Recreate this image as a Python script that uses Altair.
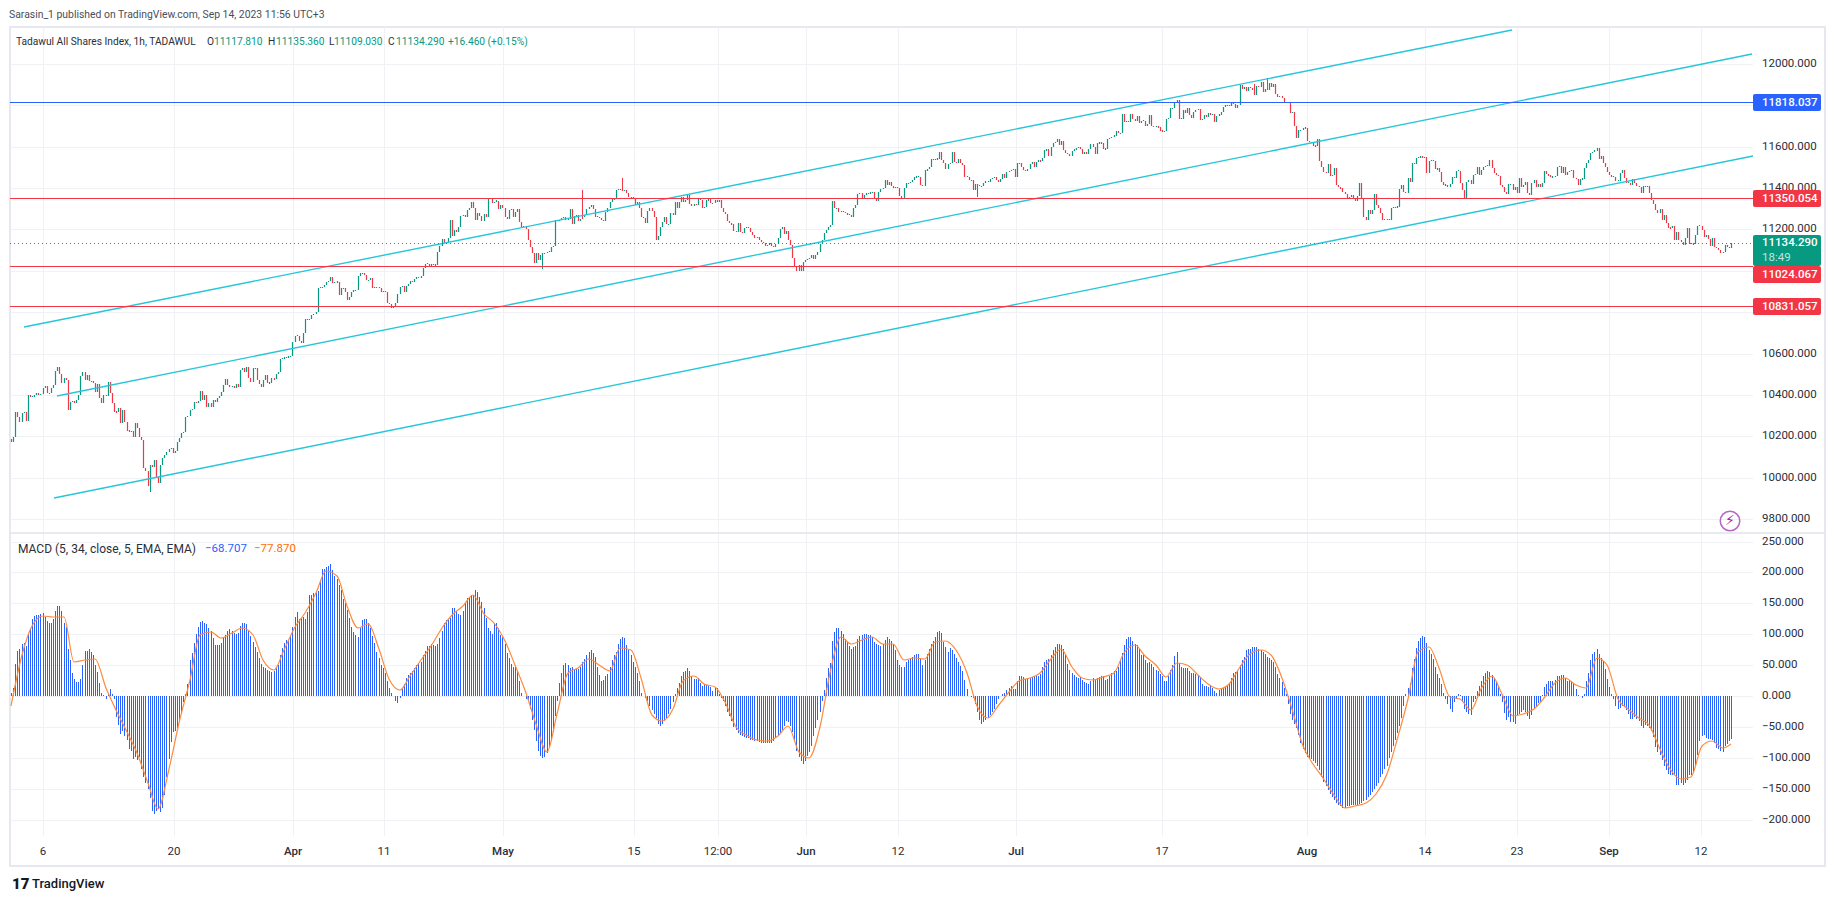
import altair as alt
import pandas as pd

closes = [
10170,10195,10319,10295,10270,10311,10316,10275,10399,10391,
10391,10399,10407,10404,10404,10432,10443,10407,10407,10432,
10448,10517,10535,10499,10456,10480,10472,10327,10365,10372,
10360,10375,10398,10491,10512,10472,10496,10467,10467,10460,
10416,10452,10383,10359,10399,10395,10461,10407,10359,10319,
10317,10335,10266,10327,10270,10227,10225,10225,10198,10265,
10238,10198,10182,10046,10030,9961,10061,10052,10085,10004,
9975,10061,10093,10109,10125,10140,10145,10120,10130,10170,
10190,10215,10222,10294,10300,10327,10332,10367,10359,10370,
10420,10375,10399,10343,10359,10343,10375,10367,10386,10394,
10415,10448,10475,10450,10440,10445,10435,10452,10436,10520,
10528,10513,10537,10480,10464,10528,10530,10472,10455,10440,
10470,10498,10456,10460,10480,10477,10499,10510,10572,10577,
10581,10581,10585,10588,10657,10685,10685,10660,10653,10700,
10765,10765,10765,10786,10791,10802,10918,10920,10920,10931,
10947,10950,10968,10940,10946,10947,10883,10915,10915,10899,
10859,10875,10899,10907,10907,10975,10988,10988,10980,10955,
10955,10965,10918,10924,10918,10918,10899,10899,10899,10843,
10838,10819,10830,10843,10890,10920,10925,10900,10925,10935,
10950,10945,10960,10970,10965,10975,11015,11035,11035,11020,
11035,11030,11027,11092,11119,11153,11135,11140,11161,11245,
11170,11197,11190,11210,11263,11270,11258,11293,11302,11334,
11305,11245,11280,11263,11242,11275,11258,11350,11345,11330,
11335,11338,11300,11317,11302,11262,11250,11295,11300,11258,
11282,11300,11237,11213,11215,11200,11150,11116,11087,11039,
11084,11050,11075,11084,11084,11092,11092,11113,11119,11245,
11240,11245,11253,11258,11245,11250,11297,11225,11264,11269,
11240,11250,11261,11270,11297,11310,11320,11298,11262,11262,
11257,11245,11240,11285,11302,11334,11345,11345,11393,11393,
11393,11390,11390,11375,11355,11355,11345,11320,11332,11305,
11262,11254,11230,11290,11305,11290,11262,11150,11170,11210,
11238,11262,11226,11226,11278,11270,11334,11302,11334,11355,
11334,11342,11367,11323,11313,11323,11318,11347,11342,11302,
11310,11342,11346,11326,11326,11342,11335,11342,11302,11286,
11275,11242,11230,11226,11194,11189,11233,11189,11181,11205,
11213,11205,11190,11173,11157,11162,11150,11141,11135,11120,
11125,11135,11120,11115,11130,11160,11200,11210,11176,11194,
11149,11125,11060,11020,11000,11030,11000,11045,11050,11055,
11060,11075,11055,11075,11090,11130,11150,11181,11197,11213,
11221,11339,11302,11302,11286,11286,11286,11278,11270,11270,
11262,11302,11318,11370,11375,11350,11367,11375,11375,11378,
11383,11350,11338,11383,11394,11400,11439,11415,11431,11410,
11402,11402,11402,11362,11350,11399,11423,11423,11431,11439,
11452,11455,11456,11415,11410,11487,11491,11503,11539,11540,
11540,11541,11576,11536,11520,11492,11517,11520,11576,11528,
11520,11539,11520,11512,11455,11455,11439,11439,11391,11420,
11415,11410,11410,11426,11430,11431,11442,11447,11452,11439,
11431,11445,11468,11447,11480,11482,11487,11492,11455,11520,
11520,11504,11488,11483,11491,11515,11528,11500,11528,11531,
11530,11547,11584,11588,11555,11597,11617,11625,11638,11609,
11628,11584,11568,11565,11557,11580,11589,11592,11600,11590,
11566,11575,11565,11588,11615,11600,11565,11617,11620,11618,
11590,11588,11636,11641,11649,11652,11678,11665,11665,11758,
11720,11720,11720,11758,11734,11722,11750,11713,11726,11726,
11700,11710,11752,11700,11698,11698,11694,11676,11673,11678,
11733,11738,11786,11786,11815,11824,11735,11735,11778,11762,
11786,11754,11740,11770,11778,11781,11730,11733,11754,11746,
11765,11755,11760,11718,11750,11754,11770,11794,11797,11802,
11797,11818,11805,11785,11800,11899,11878,11889,11871,11888,
11882,11873,11850,11893,11891,11915,11866,11878,11875,11906,
11890,11905,11855,11840,11845,11835,11815,11815,11816,11765,
11770,11700,11640,11680,11680,11690,11692,11630,11625,11620,
11605,11602,11635,11533,11500,11480,11473,11516,11460,11465,
11496,11415,11404,11400,11383,11372,11350,11355,11367,11345,
11340,11360,11423,11351,11262,11246,11294,11275,11295,11370,
11318,11306,11278,11246,11250,11246,11246,11302,11307,11307,
11310,11394,11415,11383,11378,11447,11431,11520,11518,11544,
11549,11552,11548,11550,11475,11533,11533,11533,11491,11495,
11480,11431,11415,11415,11404,11418,11455,11450,11484,11484,
11426,11391,11351,11431,11439,11420,11463,11468,11500,11464,
11488,11500,11507,11507,11536,11496,11472,11464,11459,11415,
11407,11383,11370,11418,11418,11390,11407,11378,11450,11407,
11415,11428,11375,11367,11423,11439,11404,11420,11407,11423,
11483,11467,11463,11452,11455,11458,11500,11507,11475,11500,
11463,11479,11484,11487,11447,11442,11415,11442,11445,11495,
11519,11535,11568,11576,11580,11592,11539,11556,11519,11503,
11479,11463,11455,11455,11435,11435,11471,11487,11447,11426,
11426,11415,11442,11426,11410,11403,11374,11410,11410,11410,
11374,11342,11323,11294,11281,11297,11245,11269,11229,11208,
11205,11218,11148,11189,11148,11141,11127,11157,11205,11132,
11132,11129,11173,11218,11218,11197,11165,11173,11153,11119,
11157,11116,11108,11103,11087,11092,11124,11117,11111,11134,
]
first_open = 10185

wick_bar = [66, 272, 291, 253, 460, 598, 592, 556]
wick_high = [10061, 11390, 11447, 11084, 11415, 11931, 11904, 11818]
wick_low = [9932, 11250, 11390, 11011, 11359, 11875, 11850, 11735]

macd = [
5,13,52,73,77,85,86,81,102,110,
125,130,132,132,133,134,128,122,119,119,
124,137,146,146,137,119,112,77,59,38,
28,23,23,28,51,73,73,77,71,67,
51,39,21,5,2,-4,5,11,3,-5,
-34,-47,-61,-57,-65,-70,-85,-89,-101,-98,
-103,-98,-118,-130,-140,-150,-165,-185,-190,-185,
-183,-187,-180,-160,-130,-101,-74,-58,-57,-52,
-41,-28,-10,3,19,58,70,86,100,112,
120,121,118,116,110,105,94,83,82,82,
86,94,99,105,108,106,102,101,102,113,
118,119,116,107,97,88,80,72,61,52,
48,46,43,40,39,40,45,51,67,78,
86,91,91,97,112,128,136,124,126,128,
124,136,164,164,167,169,170,188,206,206,
208,210,213,204,195,190,180,172,157,150,
140,126,112,103,99,96,110,123,124,124,
118,110,97,86,72,62,51,46,38,24,
13,5,0,-7,-11,-3,11,19,30,35,
38,40,46,51,54,56,67,73,81,81,
84,83,81,85,94,105,118,123,123,126,
142,143,137,133,132,137,150,158,160,164,
164,172,168,161,153,142,126,110,105,100,
118,118,110,99,95,84,70,62,52,48,
48,41,25,6,1,-4,-8,-20,-38,-55,
-72,-88,-97,-100,-98,-92,-82,-72,-58,-32,
-8,22,38,50,54,50,45,47,44,44,
44,48,55,60,66,71,74,70,63,47,
35,25,27,32,36,48,58,66,72,85,
92,96,94,83,75,67,56,47,38,25,
6,1,-3,-8,-15,-22,-28,-35,-45,-48,
-45,-40,-35,-28,-20,-10,3,14,22,32,
39,41,46,41,32,28,28,30,22,16,
20,18,16,15,8,13,13,3,-3,-8,
-15,-25,-32,-40,-50,-55,-60,-63,-65,-66,
-67,-68,-70,-70,-72,-73,-74,-75,-75,-75,
-76,-76,-75,-72,-68,-65,-60,-55,-48,-40,
-42,-48,-58,-72,-88,-98,-105,-110,-104,-96,
-90,-80,-65,-52,-38,-25,-8,10,30,46,
54,90,104,110,110,106,101,92,88,81,
76,79,81,92,98,99,101,101,99,99,
95,88,84,82,81,85,91,96,92,90,
84,74,59,50,48,47,55,59,61,63,
66,68,68,60,51,59,68,77,85,90,
95,104,106,102,88,79,72,78,75,69,
62,55,49,40,27,12,1,-1,-3,-12,
-25,-38,-45,-42,-38,-35,-30,-25,-20,-12,
-5,1,3,6,10,14,16,12,12,24,
33,33,31,28,28,29,31,33,32,33,
36,48,56,58,60,66,74,79,85,85,
83,76,66,52,43,37,34,31,30,31,
26,23,21,20,25,30,28,29,31,32,
32,26,28,33,37,40,41,47,58,70,
82,92,96,95,89,85,82,76,66,66,
59,54,55,52,48,42,40,36,33,25,
25,33,42,50,65,72,54,47,46,45,
46,41,38,38,36,32,30,20,17,17,
15,18,14,8,6,10,11,13,15,16,
19,30,37,39,41,50,59,64,75,77,
77,79,79,79,77,74,71,68,63,62,
59,56,47,36,29,23,13,3,-12,-28,
-38,-45,-52,-62,-75,-85,-92,-98,-100,-102,
-105,-108,-112,-120,-130,-138,-145,-152,-158,-163,
-168,-172,-176,-178,-181,-180,-178,-178,-176,-175,
-175,-175,-174,-172,-170,-167,-163,-160,-155,-150,
-145,-140,-130,-125,-118,-112,-100,-90,-80,-70,
-60,-48,-35,-15,3,14,22,45,60,78,
90,94,97,96,86,74,68,60,48,36,
30,20,5,-5,-13,-20,-25,-10,-5,3,
2,-10,-20,-25,-29,-30,-10,-5,8,16,
24,33,38,40,39,34,29,24,17,4,
-10,-27,-39,-33,-41,-41,-45,-30,-28,-25,
-23,-26,-32,-37,-30,-20,-16,-11,-9,2,
15,20,24,24,25,26,32,33,34,34,
29,25,26,24,20,12,2,0,-3,4,
24,38,58,68,72,76,68,62,57,44,
28,15,3,-5,-15,-21,-19,-16,-18,-22,
-29,-37,-37,-34,-36,-40,-48,-51,-46,-48,
-52,-57,-66,-82,-90,-95,-103,-113,-120,-126,
-128,-128,-128,-144,-144,-141,-143,-140,-135,-127,
-127,-124,-111,-95,-72,-64,-62,-68,-69,-69,
-71,-75,-83,-86,-88,-90,-80,-77,-73,-68.707,
]

signal_bar = list(range(0, 820, 5)) + [819]
signal = [
-15,66,113,129,128,128,55,58,60,14,-22,-58,-92,-140,-183,-118,-44,26,99,104,
94,102,110,99,59,43,75,112,134,167,203,195,145,110,116,76,28,10,32,58,
81,110,132,145,164,133,118,90,50,5,-45,-90,-28,38,45,60,50,40,78,75,
30,-30,-40,-20,25,33,20,15,-10,-50,-63,-70,-73,-65,-48,-90,-100,-50,38,95,
85,91,96,84,84,58,62,60,87,90,74,38,-15,-35,-15,7,25,30,37,60,
76,48,30,27,31,37,70,83,65,50,31,53,50,35,19,11,19,47,68,75,
66,29,-20,-80,-110,-132,-160,-180,-178,-172,-158,-125,-70,-5,72,80,45,-2,-5,-22,
12,32,4,-32,-28,-20,-3,22,29,18,13,62,50,-5,-20,-35,-47,-85,-118,-133,
-130,-80,-73,-83,-77.87,
]

price_ticks = [12000, 11800, 11600, 11400, 11200, 11000, 10800, 10600, 10400, 10200, 10000, 9800]
price_labels = [12000, 11600, 11400, 11200, 10800, 10600, 10400, 10200, 10000, 9800]
macd_ticks = [250, 200, 150, 100, 50, 0, -50, -100, -150, -200]
time_bars = [15.2, 77.6, 134.3, 177.6, 234.3, 296.7, 336.7, 378.6, 422.4, 478.6, 548.1, 617.1, 673.3, 717.1, 761, 804.8]
time_labels = ["6", "20", "Apr", "11", "May", "15", "12:00", "Jun", "12", "Jul", "17", "Aug", "14", "23", "Sep", "12"]
month_labels = ["Apr", "May", "Jun", "Jul", "Aug", "Sep"]

hline_blue = [11818.037]
hline_red = [11350.054, 11024.067, 10831.057]
last_price = [11134.29]

channel_top_bar, channel_top_price = [6.2, 714.8], [10728, 12164]
channel_mid_bar, channel_mid_price = [21.9, 829], [10394, 12048]
channel_low_bar, channel_low_price = [20.5, 829.5], [9901, 11555]

GREEN, RED, BLUE, ORANGE, CYAN = "#089981", "#F23645", "#2962FF", "#FF8A3D", "#26C6DA"
GRID, FRAME, INK = "#F0F1F4", "#E6E8EF", "#2A2E39"
FONT = "Roboto"
W, H = 1819, 885
RIGHT = 1745
TEXT_X = 1754

XS = alt.Scale(domain=[0, 819], range=[3, 1722.9], nice=False, zero=False, round=True)
YP = alt.Scale(domain=[9800, 12000], range=[511, 56], nice=False, zero=False, round=True)
YM = alt.Scale(domain=[-200, 250], range=[812, 533.5], nice=False, zero=False, round=True)

xq = alt.X("i:Q", scale=XS, axis=None)
yp = alt.Y("p:Q", scale=YP, axis=None)
ym = alt.Y("m:Q", scale=YM, axis=None)

one = alt.Data(values=[{}])


def txt(s, x, y, color=INK, size=11.5, align="left", weight="normal", font=FONT):
    return alt.Chart(one).mark_text(
        text=s, align=align, baseline="middle", color=color, fontSize=size, fontWeight=weight, font=font
    ).encode(x=alt.value(x), y=alt.value(y))


def box(x, x2, y, y2, fill, stroke=None, sw=0, radius=2):
    kw = {"stroke": stroke, "strokeWidth": sw} if stroke else {}
    return alt.Chart(one).mark_rect(fill=fill, cornerRadius=radius, **kw).encode(
        x=alt.value(x), x2=alt.value(x2), y=alt.value(y), y2=alt.value(y2)
    )


def hrules(values, y, color, width=1, x2=RIGHT, dash=None):
    kw = {"strokeDash": dash} if dash else {}
    return alt.Chart(pd.DataFrame({y: values})).mark_rule(color=color, strokeWidth=width, yOffset=0.5, **kw).encode(
        y=yp if y == "p" else ym, x=alt.value(2), x2=alt.value(x2)
    )


def channel(bars, prices):
    return alt.Chart(pd.DataFrame({"i": bars, "p": prices})).mark_line(
        color=CYAN, strokeWidth=1.4, clip=False
    ).encode(x=xq, y=yp)


opens = [first_open] + closes[:-1]
candles = pd.DataFrame({"i": range(len(closes)), "o": opens, "c": closes})
candles["up"] = candles.c >= candles.o
candles["lo"] = candles[["o", "c"]].min(axis=1)
candles["hi"] = candles[["o", "c"]].max(axis=1)
thin = candles.hi - candles.lo < 5
candles.loc[thin, "lo"] = candles.lo - 2.5
candles.loc[thin, "hi"] = candles.hi + 2.5
candles["dir"] = candles.up.map({True: "up", False: "down"})
color_scale = alt.Scale(domain=["up", "down"], range=[GREEN, RED])

bodies = alt.Chart(candles).mark_rule(strokeWidth=1.2, xOffset=0.5).encode(
    x=xq,
    y=alt.Y("lo:Q", scale=YP, axis=None),
    y2="hi:Q",
    color=alt.Color("dir:N", scale=color_scale, legend=None),
)
w = pd.DataFrame({"i": wick_bar, "h": wick_high, "l": wick_low})
w["dir"] = ["up", "down", "down", "up", "up", "down", "down", "down"]
wicks = alt.Chart(w).mark_rule(strokeWidth=1, xOffset=0.5).encode(
    x=xq,
    y=alt.Y("l:Q", scale=YP, axis=None),
    y2="h:Q",
    color=alt.Color("dir:N", scale=color_scale, legend=None),
)

hist = pd.DataFrame({"i": range(len(macd)), "m": macd, "z": 0})
hist_marks = alt.Chart(hist).mark_rule(color=BLUE, strokeWidth=1, xOffset=0.5).encode(x=xq, y=ym, y2="z:Q")
sig = pd.DataFrame({"i": signal_bar, "m": signal})
sig_line = alt.Chart(sig).mark_line(color=ORANGE, strokeWidth=1.2, interpolate="monotone").encode(x=xq, y=ym)

vgrid = alt.Chart(pd.DataFrame({"i": time_bars})).mark_rule(color=GRID, strokeWidth=1, xOffset=0.5).encode(
    x=xq, y=alt.value(19), y2=alt.value(828)
)

tdf = pd.DataFrame({"i": time_bars, "t": time_labels})
tdf["bold"] = tdf.t.isin(month_labels)
time_plain = alt.Chart(tdf[~tdf.bold]).mark_text(
    align="center", baseline="middle", color=INK, fontSize=11.5, font=FONT
).encode(x=xq, y=alt.value(844), text="t:N")
time_bold = alt.Chart(tdf[tdf.bold]).mark_text(
    align="center", baseline="middle", color=INK, fontSize=11.5, font=FONT, fontWeight=500
).encode(x=xq, y=alt.value(844), text="t:N")

pt = pd.DataFrame({"p": price_labels})
pt["t"] = pt.p.map(lambda v: f"{v:.3f}")
price_axis = alt.Chart(pt).mark_text(
    align="left", baseline="middle", color=INK, fontSize=11.5, font=FONT
).encode(x=alt.value(TEXT_X), y=yp, text="t:N")

mt = pd.DataFrame({"m": macd_ticks})
mt["t"] = mt.m.map(lambda v: f"{v:.3f}".replace("-", "\u2212"))
macd_axis = alt.Chart(mt).mark_text(
    align="left", baseline="middle", color=INK, fontSize=11.5, font=FONT
).encode(x=alt.value(TEXT_X), y=ym, text="t:N")

tag_x, tag_x2 = 1745, 1813
tags = [
    box(tag_x, tag_x2, 86, 103, BLUE),
    box(tag_x, tag_x2, 182, 199, RED),
    box(tag_x, tag_x2, 227, 258, GREEN),
    box(tag_x, tag_x2, 258, 275, RED),
    box(tag_x, tag_x2, 290, 307, RED),
    txt("11818.037", TEXT_X, 94.5, "#ffffff", weight=500),
    txt("11350.054", TEXT_X, 190.5, "#ffffff", weight=500),
    txt("11134.290", TEXT_X, 235, "#ffffff", weight=500),
    txt("18:49", TEXT_X, 250, "#BFE5DD"),
    txt("11024.067", TEXT_X, 266.5, "#ffffff", weight=500),
    txt("10831.057", TEXT_X, 298.5, "#ffffff", weight=500),
]

legend = [
    txt("Sarasin_1 published on TradingView.com, Sep 14, 2023 11:56 UTC+3", 1, 7, "#4A4E59", size=10.4),
    txt("Tadawul All Shares Index, 1h, TADAWUL", 8, 34, INK, size=10.2),
    txt("O", 199, 34, INK, size=10.2),
    txt("11117.810", 206, 34, GREEN, size=10.2),
    txt("H", 260, 34, INK, size=10.2),
    txt("11135.360", 268, 34, GREEN, size=10.2),
    txt("L", 321, 34, INK, size=10.2),
    txt("11109.030", 326, 34, GREEN, size=10.2),
    txt("C", 380, 34, INK, size=10.2),
    txt("11134.290", 388, 34, GREEN, size=10.2),
    txt("+16.460 (+0.15%)", 440, 34, GREEN, size=10.2),
    txt("MACD (5, 34, close, 5, EMA, EMA)", 10, 541, INK, size=12),
    txt("\u221268.707", 197, 541, BLUE, size=11.5),
    txt("\u221277.870", 246, 541, "#FF6D00", size=11.5),
    txt("17", 4, 876, "#131722", size=15, weight=900),
    txt("TradingView", 24, 876, "#131722", size=13, weight=500),
]

bolt_ring = alt.Chart(one).mark_point(shape="circle", size=380, color="#9C27B0", strokeWidth=1.5, filled=False).encode(
    x=alt.value(1722), y=alt.value(513)
)
bolt = txt("\u26A1", 1722, 513, "#9C27B0", size=14, align="center", font="DejaVu Sans")

layers = [
    box(2, 1817, 19, 858, "#ffffff", FRAME, 2, 0),
    vgrid,
    hrules(price_ticks, "p", GRID),
    hrules(macd_ticks, "m", GRID),
    alt.Chart(one).mark_rule(color="#E0E3EB", strokeWidth=1.5).encode(
        x=alt.value(2), x2=alt.value(1817), y=alt.value(525)
    ),
    bodies,
    wicks,
    channel(channel_top_bar, channel_top_price),
    channel(channel_mid_bar, channel_mid_price),
    channel(channel_low_bar, channel_low_price),
    hrules(hline_blue, "p", BLUE, 1),
    hrules(hline_red, "p", RED, 1),
    hrules(last_price, "p", GREEN, 1, dash=[1, 3]),
    hist_marks,
    sig_line,
    price_axis,
    macd_axis,
    time_plain,
    time_bold,
    bolt_ring,
    bolt,
    *tags,
    *legend,
]

chart = (
    alt.layer(*layers)
    .resolve_scale(y="independent", color="shared")
    .properties(width=W, height=H, padding=0, autosize=alt.AutoSizeParams(type="none"), background="#ffffff")
    .configure_view(stroke=None)
)

chart.save("out.html", embed_options={"renderer": "svg", "actions": False})
